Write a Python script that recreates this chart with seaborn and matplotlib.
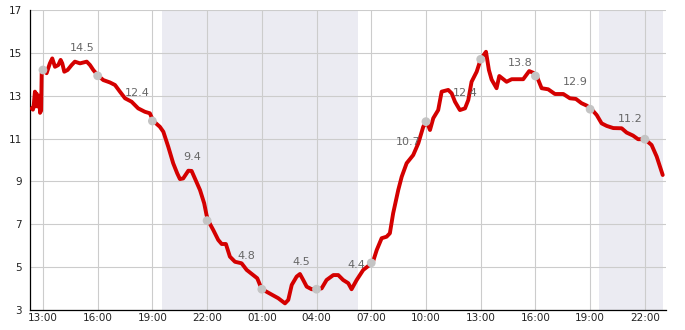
import numpy as np
import pandas as pd
import matplotlib
matplotlib.use("Agg")
import matplotlib.pyplot as plt
import matplotlib.dates as mdates
import seaborn as sns

# ---- data: hours since 13:00 of day 1, temperature ----
hours = [-0.62, -0.55, -0.50, -0.44, -0.40, -0.35, -0.30, -0.26, -0.20, -0.16, -0.10,
         -0.07, 0.02, 0.20, 0.38, 0.51, 0.66, 0.84, 0.97, 1.06, 1.17, 1.35, 1.57,
         1.75, 2.03, 2.40, 2.58, 2.76, 3.03, 3.31, 3.67, 3.95, 4.22, 4.50, 4.86,
         5.22, 5.59, 5.86, 6.05, 6.41, 6.60, 6.87, 7.14, 7.36, 7.51, 7.69, 7.97,
         8.15, 8.33, 8.61, 8.84, 8.97, 9.06, 9.34, 9.61, 9.80, 10.03, 10.25, 10.53,
         10.89, 11.17, 11.53, 11.75, 11.99, 12.35, 12.90, 13.27, 13.45, 13.64, 13.91,
         14.09, 14.27, 14.46, 14.73, 15.01, 15.28, 15.55, 15.92, 16.19, 16.46, 16.74,
         16.92, 17.20, 17.56, 17.83, 18.08, 18.30, 18.57, 18.84, 19.02, 19.20, 19.48,
         19.67, 19.94, 20.30, 20.58, 20.85, 21.04, 21.22, 21.40, 21.67, 21.86, 22.22,
         22.41, 22.59, 22.86, 23.14, 23.32, 23.50, 23.78, 24.00, 24.29, 24.45, 24.60,
         24.87, 25.02, 25.42, 25.70, 26.33, 26.66, 26.88, 27.07, 27.34, 27.70, 28.07,
         28.53, 28.89, 29.22, 29.53, 29.81, 30.08, 30.36, 30.63, 30.91, 31.27, 31.73,
         32.00, 32.35, 32.63, 33.00, 33.37, 33.65, 33.83, 33.98]
temps = [12.41, 12.35, 12.60, 13.19, 12.50, 13.10, 12.60, 12.49, 13.00, 12.20, 12.30,
         14.05, 14.20, 14.05, 14.51, 14.74, 14.35, 14.43, 14.67, 14.51, 14.12, 14.20, 14.43,
         14.59, 14.51, 14.59, 14.43, 14.20, 13.93, 13.73, 13.62, 13.50, 13.19, 12.88, 12.72,
         12.41, 12.25, 12.18, 11.82, 11.55, 11.32, 10.62, 9.85, 9.38, 9.11, 9.14, 9.50,
         9.49, 9.14, 8.60, 7.98, 7.43, 7.17, 6.73, 6.27, 6.08, 6.08, 5.49, 5.25,
         5.18, 4.87, 4.63, 4.48, 3.98, 3.81, 3.55, 3.31, 3.47, 4.17, 4.56,
         4.68, 4.40, 4.09, 3.97, 3.97, 4.01, 4.40, 4.63, 4.63, 4.40, 4.25,
         3.97, 4.40, 4.87, 5.05, 5.21, 5.80, 6.35, 6.42, 6.58, 7.51, 8.60,
         9.22, 9.85, 10.23, 10.78, 11.55, 11.79, 11.40, 11.95, 12.33, 13.19, 13.27,
         13.11, 12.72, 12.33, 12.41, 12.80, 13.65, 14.12, 14.70, 15.05, 14.20, 13.75,
         13.35, 13.92, 13.65, 13.77, 13.77, 14.15, 14.07, 13.92, 13.35, 13.30, 13.08,
         13.08, 12.88, 12.85, 12.65, 12.54, 12.37, 12.10, 11.71, 11.59, 11.49, 11.48,
         11.28, 11.14, 10.97, 10.97, 10.70, 10.16, 9.69, 9.30]

# 3-hourly markers
marker_hours = [0, 3, 6, 9, 12, 15, 18, 21, 24, 27, 30, 33]
marker_temps = [14.2, 13.93, 11.82, 7.17, 3.97, 3.97, 5.2, 11.79, 14.7, 13.92, 12.37, 10.97]

# interval labels (one per 3-hour block)
label_values = ["14.5", "12.4", "9.4", "4.8", "4.5", "4.4", "10.7", "12.4", "13.8", "12.9", "11.2"]

# night periods (hours since 13:00 day 1)
night_start = [6.5, 30.5]
night_end = [17.25, 33.99]

base = pd.Timestamp("2024-05-01 13:00")
def to_time(h):
    return base + pd.to_timedelta(np.asarray(h, dtype=float), unit="h")

df = pd.DataFrame({"time": to_time(hours), "temp": temps})
dm = pd.DataFrame({"time": to_time(marker_hours), "temp": marker_temps})

sns.set_style("white")
plt.rcParams["font.family"] = ["DejaVu Sans"]

fig = plt.figure(figsize=(6.85, 3.3), dpi=100)
ax = fig.add_axes([30 / 685, 20 / 330, 636 / 685, 300 / 330])

for s, e in zip(night_start, night_end):
    ax.axvspan(to_time([s])[0], to_time([e])[0], color="#ebebf2", lw=0, zorder=0)

sns.lineplot(data=df, x="time", y="temp", ax=ax, color="#d40000", lw=2.8,
             estimator=None, sort=False, zorder=3)
sns.scatterplot(data=dm, x="time", y="temp", ax=ax, color="#c4c4c4", s=40,
                edgecolor="none", zorder=4)

for i, lab in enumerate(label_values):
    v = float(lab)
    cx = marker_hours[i] + 2.17
    cy = v + 0.72
    if lab == "10.7":
        cx -= 0.16
        cy = v + 0.14
    ax.text(to_time([cx])[0], cy, lab, ha="center", va="center",
            fontsize=8, color="#666666", zorder=5)

ax.set_xlim(to_time([-0.71])[0], to_time([34.16])[0])
ax.set_ylim(3, 17)
ax.set_yticks(np.arange(3, 18, 2))
ax.set_yticks(np.arange(4, 17, 2), minor=True)
ax.xaxis.set_major_locator(mdates.HourLocator(byhour=[1, 4, 7, 10, 13, 16, 19, 22]))
ax.xaxis.set_major_formatter(mdates.DateFormatter("%H:%M"))

ax.grid(True, which="major", color="#cccccc", lw=0.8)
ax.set_axisbelow(True)
ax.tick_params(axis="both", which="major", direction="in", length=3.5, width=0.8,
               labelsize=7.5, labelcolor="#222222", color="#000000", pad=2)
ax.tick_params(axis="y", which="minor", direction="in", length=2.5, width=0.8, color="#000000")
ax.tick_params(axis="y", which="major", length=0, pad=6)
ax.set_xlabel("")
ax.set_ylabel("")
for side in ["top", "right"]:
    ax.spines[side].set_visible(False)
for side in ["left", "bottom"]:
    ax.spines[side].set_color("#000000")
    ax.spines[side].set_linewidth(0.9)

fig.savefig("out.png", dpi=100)
